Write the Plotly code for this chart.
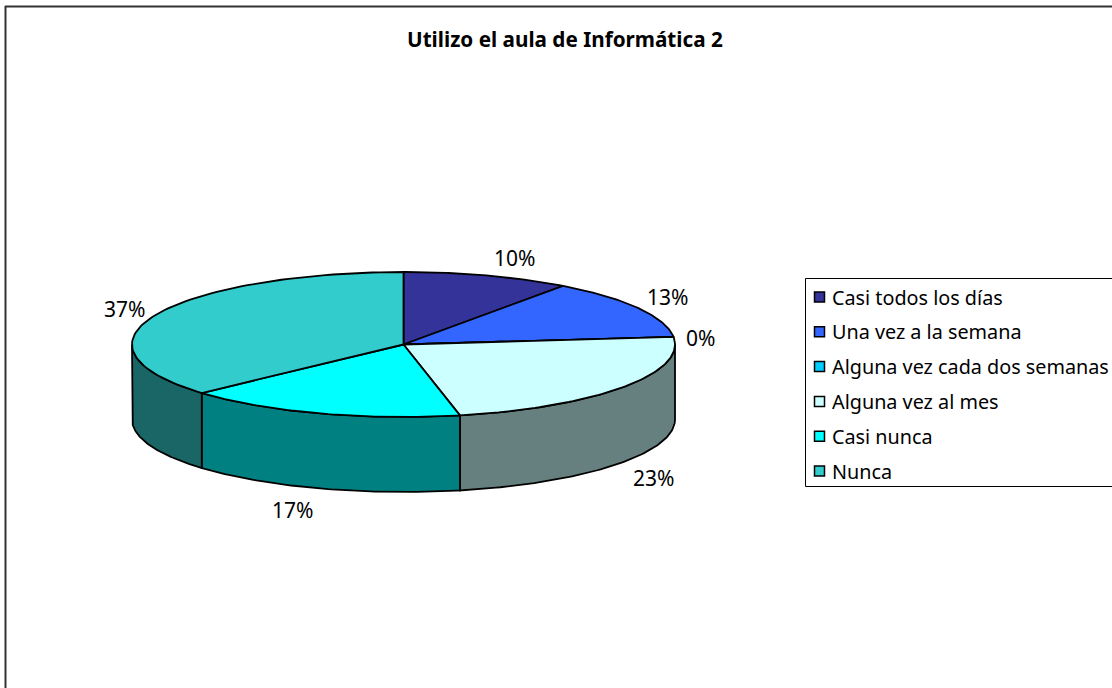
import numpy as np
import plotly.graph_objects as go

# answers out of 30 people
categories = ["Casi todos los días", "Una vez a la semana", "Alguna vez cada dos semanas",
              "Alguna vez al mes", "Casi nunca", "Nunca"]
counts = [3, 4, 0, 7, 5, 11]

top_colors = ["#333399", "#3366FF", "#00CCFF", "#CCFFFF", "#00FFFF", "#33CCCC"]
side_colors = ["#1A1A4D", "#1A3380", "#006680", "#668080", "#008080", "#1A6666"]

title_text = "Utilizo el aula de Informática 2"

# pie geometry, in page pixels
cx, cy = 403.5, 344.5
rx, ry = 271.5, 72.5
depth = 75

# label offsets from the rim point at the middle of each slice
label_shift = [(27, -18), (29, -11), (27, 1), (30, 16), (-27, 22), (-31, -6)]

FONT = "Noto Sans"
W, H = 1112, 688


def rim(theta, drop=0):
    return cx + rx * np.sin(theta), cy - ry * np.cos(theta) + drop


fig = go.Figure()

shares = np.array(counts) / sum(counts)
edges = np.concatenate([[0], np.cumsum(shares)]) * 2 * np.pi

# front wall first, only the part between 90 and 270 degrees shows
for i in range(len(counts)):
    a0 = max(edges[i], np.pi / 2)
    a1 = min(edges[i + 1], 3 * np.pi / 2)
    if a1 <= a0:
        continue
    t = np.linspace(a0, a1, 80)
    xt, yt = rim(t)
    xb, yb = rim(t[::-1], depth)
    fig.add_trace(go.Scatter(x=np.concatenate([xt, xb, xt[:1]]),
                             y=np.concatenate([yt, yb, yt[:1]]),
                             mode="lines", fill="toself", fillcolor=side_colors[i],
                             line=dict(color="black", width=1.8), hoverinfo="skip"))

# top of the pie
for i in range(len(counts)):
    t = np.linspace(edges[i], edges[i + 1], 80)
    xt, yt = rim(t)
    fig.add_trace(go.Scatter(x=np.concatenate([[cx], xt, [cx]]),
                             y=np.concatenate([[cy], yt, [cy]]),
                             mode="lines", fill="toself", fillcolor=top_colors[i],
                             line=dict(color="black", width=1.8), hoverinfo="skip"))

# percent labels
for i in range(len(counts)):
    mid = (edges[i] + edges[i + 1]) / 2
    front = np.cos(mid) < 0
    x, y = rim(mid, depth if front else 0)
    fig.add_annotation(x=x, y=y, text=f"{round(shares[i] * 100)}%", showarrow=False,
                       xshift=label_shift[i][0], yshift=-label_shift[i][1],
                       font=dict(family=FONT, size=21, color="black"))

# legend box, open at the right side of the page
fig.add_shape(type="rect", x0=805.5, x1=W + 5, y0=278.5, y1=486.5,
              line=dict(color="black", width=1), fillcolor="white", layer="below")
for i, name in enumerate(categories):
    row = 297 + i * 34.8
    fig.add_trace(go.Scatter(x=[819.5], y=[row], mode="markers",
                             marker=dict(symbol="square", size=10, color=top_colors[i],
                                         line=dict(color="black", width=1.5)),
                             hoverinfo="skip", cliponaxis=False))
    fig.add_annotation(x=830, y=row, text=name, showarrow=False, xanchor="left",
                       font=dict(family=FONT, size=19.8, color="black"))

# chart frame, only left and top are on the page
fig.add_shape(type="line", x0=5.5, x1=5.5, y0=6, y1=H, line=dict(color="#333333", width=2))
fig.add_shape(type="line", x0=5, x1=W, y0=6.5, y1=6.5, line=dict(color="#333333", width=2))

fig.add_annotation(x=565, y=39, text=f"<b>{title_text}</b>", showarrow=False,
                   font=dict(family=FONT, size=20.7, color="black"))

fig.update_xaxes(visible=False, range=[0, W])
fig.update_yaxes(visible=False, range=[H, 0])
fig.update_layout(width=W, height=H, margin=dict(l=0, r=0, t=0, b=0), showlegend=False,
                  plot_bgcolor="white", paper_bgcolor="white")

# the page has a default body margin that shifts everything by 8px
fig.write_html("out.html", config=dict(displayModeBar=False),
               post_script="document.body.style.margin='0';document.body.style.overflow='hidden';")
